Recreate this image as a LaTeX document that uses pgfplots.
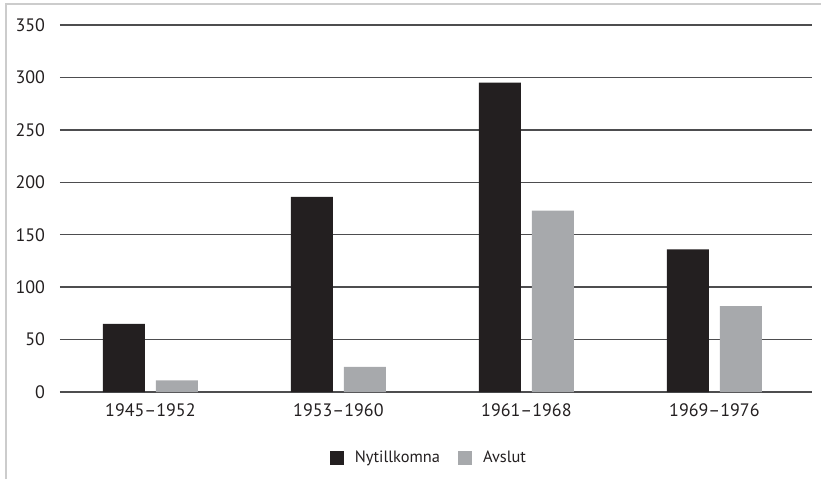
\documentclass[border=0pt]{standalone}
\usepackage{pgfplots}
\pgfplotsset{compat=1.18}
\usepackage{fontspec}
\setmainfont{PT Sans}
\definecolor{barblack}{HTML}{231F20}
\definecolor{bargray}{HTML}{A7A9AC}
\definecolor{gridc}{HTML}{4D4D4F}
\definecolor{framec}{HTML}{CCCCCC}
\begin{document}
\begin{tikzpicture}
\begin{axis}[
  scale only axis,
  width=376pt, height=183.5pt,
  ymin=0, ymax=350,
  ytick={0,50,...,350},
  xmin=-0.481, xmax=3.519,
  xtick={0,1,2,3},
  xticklabels={1945--1952,1953--1960,1961--1968,1969--1976},
  axis line style={draw=none},
  major tick length=0pt,
  ymajorgrids,
  grid style={gridc, line width=0.7pt},
  tick label style={font=\fontsize{9}{10}\selectfont, text=barblack},
  y tick label style={xshift=-4pt},
  x tick label style={yshift=-2.5pt},
  /pgf/number format/assume math mode=true,
  ybar, bar width=0.2234,
  legend columns=-1,
  legend style={draw=none, at={(0.492,-0.18)}, anchor=center,
    font=\fontsize{8.2}{10}\selectfont, text=barblack,
    /tikz/every odd column/.append style={column sep=3.5pt},
    /tikz/every even column/.append style={column sep=7pt}},
  legend image code/.code={\fill[#1] (0pt,-3.5pt) rectangle (7pt,3.5pt);},
]
\addplot[fill=barblack, draw=none, bar shift=-0.141] coordinates {(0,65) (1,186) (2,295) (3,136)};
\addlegendentry{Nytillkomna}
\addplot[fill=bargray, draw=none, bar shift=0.141] coordinates {(0,11) (1,24) (2,173) (3,82)};
\addlegendentry{Avslut}
\end{axis}
\draw[framec, line width=1pt] (-27pt,-43.5pt) -- (-27pt,194pt) -- (380.5pt,194pt);
\pgfresetboundingbox
\path (-30pt,-43.5pt) rectangle (380.5pt,196pt);
\end{tikzpicture}
\end{document}
